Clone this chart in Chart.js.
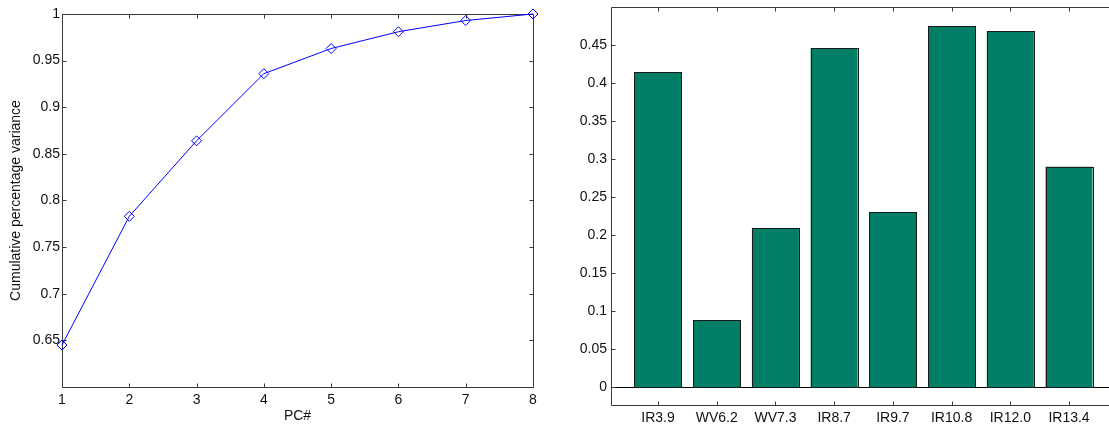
<!DOCTYPE html>
<html>
<head>
<meta charset="utf-8">
<title>PCA summary</title>
<script src="https://cdn.jsdelivr.net/npm/chart.js@4.4.1/dist/chart.umd.min.js"></script>
<style>
  html, body { margin: 0; padding: 0; background: #fff; }
  #wrap { position: relative; width: 1109px; height: 432px; overflow: hidden; background: #fff; }
  #leftBox { position: absolute; left: 0; top: 0; width: 555px; height: 432px; }
  #rightBox { position: absolute; left: 555px; top: 0; width: 554px; height: 432px; overflow: hidden; }
</style>
</head>
<body>
<div id="wrap">
  <div id="leftBox"><canvas id="cumChart" width="555" height="432"></canvas></div>
  <div id="rightBox"><canvas id="loadChart" width="620" height="432"></canvas></div>
</div>
<script>
// Cumulative explained variance per principal component
const pcs = [1, 2, 3, 4, 5, 6, 7, 8];
const cumVariance = [0.645, 0.783, 0.864, 0.936, 0.963, 0.981, 0.993, 1.0];
const cumYTicks = [0.65, 0.7, 0.75, 0.8, 0.85, 0.9, 0.95, 1];

// Loadings of each SEVIRI channel
const channels = ['IR3.9', 'WV6.2', 'WV7.3', 'IR8.7', 'IR9.7', 'IR10.8', 'IR12.0', 'IR13.4'];
const loadings = [0.414, 0.088, 0.209, 0.446, 0.230, 0.475, 0.468, 0.290];
const loadYTicks = [0, 0.05, 0.1, 0.15, 0.2, 0.25, 0.3, 0.35, 0.4, 0.45];

const FONT = { family: '"Liberation Sans", Arial, Helvetica, sans-serif', size: 14 };
const TEXT = '#111';
const AXIS = '#3a3a3a';
const TICK_LEN = 4;

Chart.defaults.font.family = FONT.family;
Chart.defaults.font.size = FONT.size;
Chart.defaults.color = TEXT;

const fmt = v => String(Number(Number(v).toFixed(2)));
const crisp = v => Math.round(v) + 0.5;
const noEdgePad = s => { s.paddingTop = 0; s.paddingBottom = 0; s.paddingLeft = 0; s.paddingRight = 0; };

// Boxed axes with inward tick marks on every side, plus an optional zero baseline
const boxAxes = {
  id: 'boxAxes',
  beforeDatasetsDraw(chart, args, opts) {
    const { ctx, chartArea: a, scales: { x, y } } = chart;
    const L = crisp(a.left), R = crisp(a.right), T = crisp(a.top), B = crisp(a.bottom);
    ctx.save();
    ctx.lineWidth = 1;
    if (opts.baseline !== undefined) {
      const by = crisp(y.getPixelForValue(opts.baseline));
      ctx.strokeStyle = '#000';
      ctx.beginPath(); ctx.moveTo(L, by); ctx.lineTo(R, by); ctx.stroke();
    }
    ctx.strokeStyle = AXIS;
    ctx.beginPath();
    ctx.moveTo(L, T); ctx.lineTo(R, T); ctx.lineTo(R, B); ctx.lineTo(L, B); ctx.closePath();
    x.ticks.forEach(t => {
      const px = crisp(x.getPixelForValue(t.value));
      ctx.moveTo(px, B); ctx.lineTo(px, B - TICK_LEN);
      ctx.moveTo(px, T); ctx.lineTo(px, T + TICK_LEN);
    });
    y.ticks.forEach(t => {
      const py = crisp(y.getPixelForValue(t.value));
      ctx.moveTo(L, py); ctx.lineTo(L + TICK_LEN, py);
      ctx.moveTo(R, py); ctx.lineTo(R - TICK_LEN, py);
    });
    ctx.stroke();
    ctx.restore();
  }
};

// Crisp dark outline around every bar, taken from the bar elements' geometry
const barOutline = {
  id: 'barOutline',
  afterDatasetsDraw(chart) {
    const { ctx } = chart;
    ctx.save();
    ctx.strokeStyle = '#1a1a1a';
    ctx.lineWidth = 1;
    chart.getSortedVisibleDatasetMetas().forEach(meta => {
      if (meta.type !== 'bar') return;
      meta.data.forEach(bar => {
        const { x, y, base, width } = bar.getProps(['x', 'y', 'base', 'width'], true);
        const l = crisp(x - width / 2), r = crisp(x + width / 2);
        const t = crisp(Math.min(y, base)), b = crisp(Math.max(y, base));
        ctx.strokeRect(l, t, r - l, b - t);
      });
    });
    ctx.restore();
  }
};

// Left panel: cumulative variance curve
new Chart(document.getElementById('cumChart'), {
  type: 'line',
  data: {
    datasets: [{
      data: pcs.map((p, i) => ({ x: p, y: cumVariance[i] })),
      borderColor: '#0000ff',
      borderWidth: 1,
      tension: 0,
      fill: false,
      pointStyle: 'rectRot',
      pointRadius: 5,
      pointBorderColor: '#0000ff',
      pointBackgroundColor: 'rgba(0,0,0,0)',
      pointBorderWidth: 1,
      clip: false
    }]
  },
  options: {
    responsive: false,
    animation: false,
    devicePixelRatio: 1,
    layout: { padding: { left: 0, right: 22, top: 14, bottom: 0 } },
    plugins: { legend: { display: false }, tooltip: { enabled: false }, boxAxes: {} },
    scales: {
      x: {
        type: 'linear', min: 1, max: 8,
        afterBuildTicks: s => { s.ticks = pcs.map(v => ({ value: v })); },
        afterFit: s => { s.height = 45; noEdgePad(s); },
        grid: { display: false, drawTicks: false },
        border: { display: false },
        ticks: { padding: 5, autoSkip: false, maxRotation: 0, color: TEXT, callback: v => fmt(v) },
        title: { display: true, text: 'PC#', color: TEXT, padding: { top: 0, bottom: 7 } }
      },
      y: {
        type: 'linear', min: 0.6, max: 1,
        afterBuildTicks: s => { s.ticks = cumYTicks.map(v => ({ value: v })); },
        afterFit: s => { s.width = 62; noEdgePad(s); },
        grid: { display: false, drawTicks: false },
        border: { display: false },
        ticks: { padding: 2, color: TEXT, callback: v => fmt(v) },
        title: { display: true, text: 'Cumulative percentage variance', color: TEXT, padding: { top: 8, bottom: 0 } }
      }
    }
  },
  plugins: [boxAxes]
});

// Right panel: channel loadings
new Chart(document.getElementById('loadChart'), {
  type: 'bar',
  data: {
    datasets: [{
      data: channels.map((c, i) => ({ x: i + 1, y: loadings[i] })),
      backgroundColor: '#007f66',
      borderWidth: 0,
      barPercentage: 0.8,
      categoryPercentage: 1.0
    }]
  },
  options: {
    responsive: false,
    animation: false,
    devicePixelRatio: 1,
    layout: { padding: { left: 0, right: 59, top: 7, bottom: 0 } },
    plugins: { legend: { display: false }, tooltip: { enabled: false }, boxAxes: { baseline: 0 } },
    scales: {
      x: {
        type: 'linear', min: 0.2, max: 8.8, offset: false,
        afterBuildTicks: s => { s.ticks = channels.map((c, i) => ({ value: i + 1 })); },
        afterFit: s => { s.height = 27; noEdgePad(s); },
        grid: { display: false, drawTicks: false },
        border: { display: false },
        ticks: { padding: 5, autoSkip: false, maxRotation: 0, color: TEXT,
                 callback: v => channels[Math.round(v) - 1] || '' }
      },
      y: {
        type: 'linear', min: -0.0235, max: 0.5,
        afterBuildTicks: s => { s.ticks = loadYTicks.map(v => ({ value: v })); },
        afterFit: s => { s.width = 56; noEdgePad(s); },
        grid: { display: false, drawTicks: false },
        border: { display: false },
        ticks: { padding: 4, color: TEXT, callback: v => fmt(v) }
      }
    }
  },
  plugins: [boxAxes, barOutline]
});
</script>
</body>
</html>
